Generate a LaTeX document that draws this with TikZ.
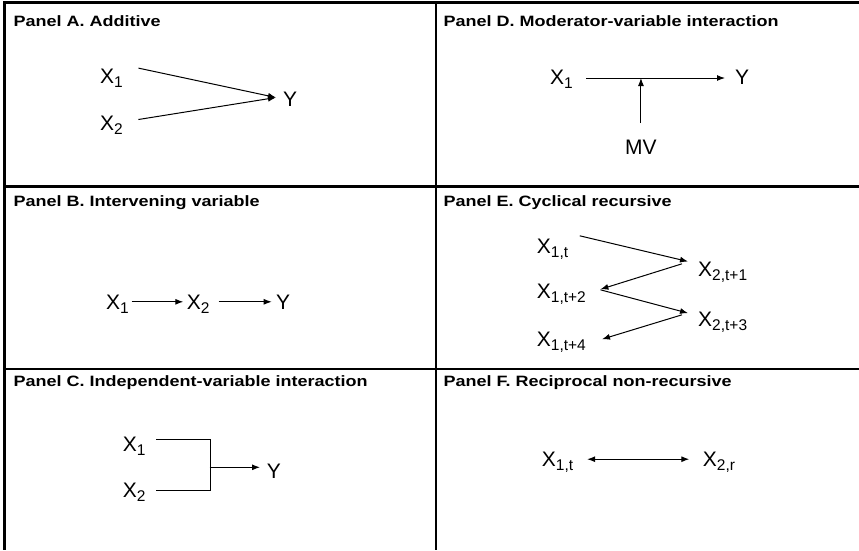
\documentclass[tikz,border=0pt]{standalone}
\usepackage{fontspec}
\setmainfont{Liberation Sans}
\usetikzlibrary{arrows.meta}
\newcommand{\vsub}[1]{\raisebox{-4pt}{\fontsize{15.5}{15.5}\selectfont #1}}

\begin{document}
\begin{tikzpicture}[x=1pt,y=-1pt,
  var/.style={inner sep=0pt,anchor=base west,font=\fontsize{21}{24}\selectfont,text height=15pt,text depth=0pt},
  paneltitle/.style={inner sep=0pt,anchor=base west,font=\bfseries\fontsize{15}{18}\selectfont,xscale=1.2},
  link/.style={-{Latex[length=8pt,width=6pt]},line width=1pt},
  twoway/.style={{Latex[length=8pt,width=6pt]}-{Latex[length=8pt,width=6pt]},line width=1pt},
  frameline/.style={line width=2.4pt}]
\useasboundingbox (0,0) rectangle (859,550);
\draw[frameline] (3,2.3) -- (859,2.3);
\draw[frameline,line width=3pt] (4.5,1) -- (4.5,550);
\draw[frameline] (435.7,1) -- (435.7,550);
\draw[frameline] (4.5,186.3) -- (859,186.3);
\draw[frameline] (4.5,369.2) -- (859,369.2);

\node[paneltitle] (ta) at (13.3,26) {Panel A. Additive};
\node[paneltitle] (tb) at (13.3,206.7) {Panel B. Intervening variable};
\node[paneltitle] (tc) at (13.3,386.7) {Panel C. Independent-variable interaction};
\node[paneltitle] (td) at (443.3,26) {Panel D. Moderator-variable interaction};
\node[paneltitle] (te) at (443.3,206.7) {Panel E. Cyclical recursive};
\node[paneltitle] (tf) at (443.3,386.7) {Panel F. Reciprocal non-recursive};

\node[var] (x1a) at (100,83.3) {X\vsub{1}};
\node[var] (x2a) at (100,130) {X\vsub{2}};
\node[var] (ya) at (283,106) {Y};
\draw[link] ([xshift=15.4pt]x1a.north east) -- ([xshift=-7pt,yshift=1pt]ya.west);
\draw[link] ([xshift=15.4pt,yshift=3pt]x2a.east) -- ([xshift=-7pt,yshift=1pt]ya.west);

\node[var] (x1b) at (106,309.3) {X\vsub{1}};
\node[var] (x2b) at (186.7,309.3) {X\vsub{2}};
\node[var] (yb) at (276,309.3) {Y};
\draw[link] ([xshift=2.5pt]x1b.east) -- ([xshift=-3.4pt]x2b.west);
\draw[link] ([xshift=9pt]x2b.east) -- ([xshift=-4.3pt]yb.west);

\node[var] (x1c) at (122.7,451.7) {X\vsub{1}};
\node[var] (x2c) at (122.7,497.7) {X\vsub{2}};
\node[var] (yc) at (266.7,478.3) {Y};
\draw ([xshift=10.7pt,yshift=-2.5pt]x1c.north east) -- ++(53.3,0) coordinate (cbar) |- ([xshift=10.7pt]x2c.east);
\draw[link] ([yshift=3.5pt]cbar |- yc.west) -- ([xshift=-6.7pt,yshift=3.5pt]yc.west);

\node[var] (x1d) at (550,84) {X\vsub{1}};
\node[var] (yd) at (735,84) {Y};
\node[var] (mvd) at (625,154) {MV};
\coordinate (bar) at ([yshift=-1.5pt]x1d.east);
\draw[link] ([xshift=13.4pt]bar) -- ([xshift=-10pt]bar -| yd.west);
\draw[link] ([yshift=15.7pt]mvd.north) -- (mvd.north |- bar);

\node[var] (e1) at (536.7,253.3) {X\vsub{1,t}};
\node[var] (e2) at (698,276.7) {X\vsub{2,t+1}};
\node[var] (e3) at (536.7,298.3) {X\vsub{1,t+2}};
\node[var] (e4) at (698,326.7) {X\vsub{2,t+3}};
\node[var] (e5) at (536.7,346.7) {X\vsub{1,t+4}};
\draw[link] ([xshift=11.4pt,yshift=2.3pt]e1.north east) -- ([xshift=-10pt]e2.north west);
\draw[link] ([xshift=-16pt,yshift=-2.3pt]e2.north west) -- ([xshift=14.4pt,yshift=1.5pt]e3.east);
\draw[link] ([xshift=14.4pt,yshift=1pt]e3.east) -- ([xshift=-10pt,yshift=-1.6pt]e4.north west);
\draw[link] ([xshift=-16pt,yshift=-3.3pt]e4.north west) -- ([xshift=16pt]e5.east);

\node[var] (f1) at (541.7,466.7) {X\vsub{1,t}};
\node[var] (f2) at (702.7,466.7) {X\vsub{2,r}};
\draw[twoway] ([xshift=13.8pt]f1.east) -- ([xshift=-13.4pt]f2.west);
\end{tikzpicture}
\end{document}
